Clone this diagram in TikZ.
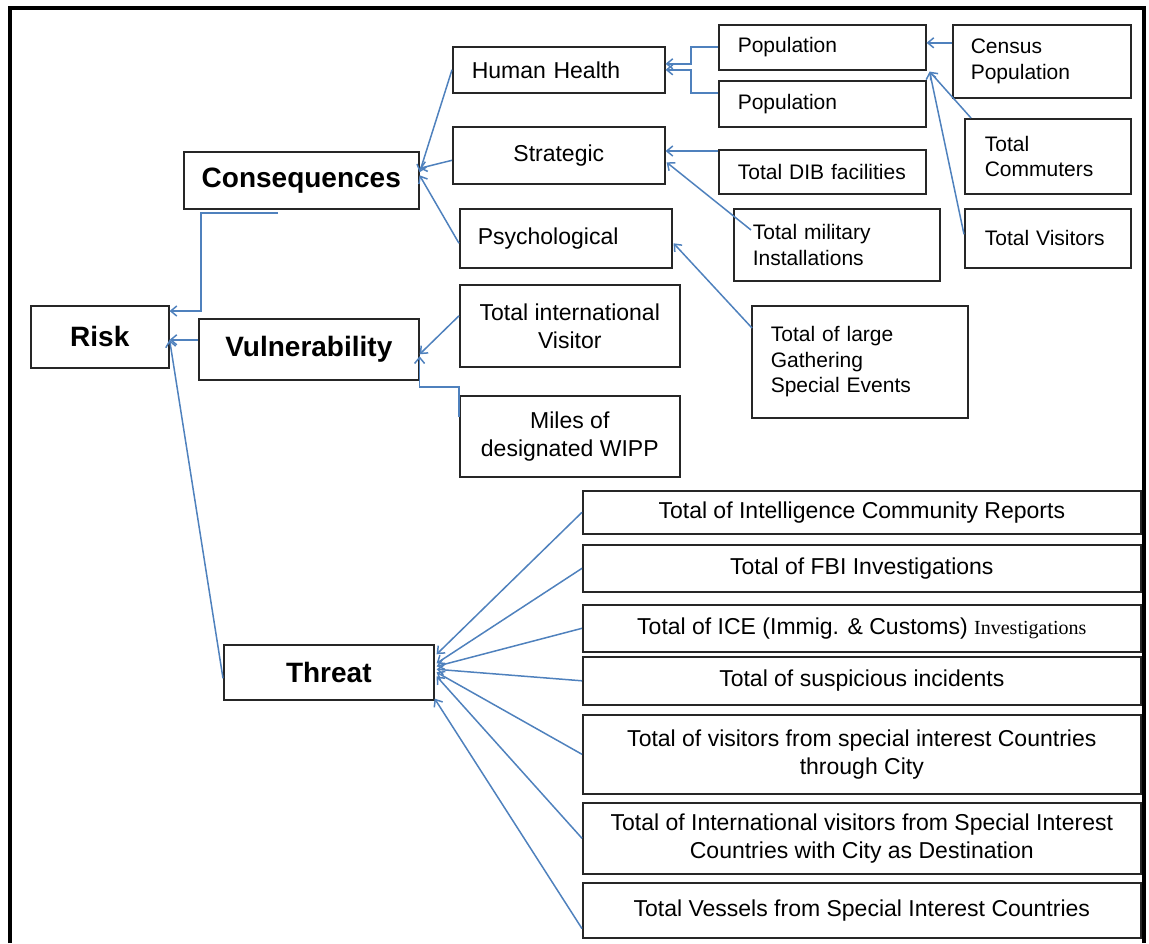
\documentclass[tikz,border=0pt]{standalone}
\usepackage{fontspec}
\setmainfont{Liberation Sans}
\newfontfamily\timesfont{Liberation Serif}
\usetikzlibrary{arrows.meta,calc}
\definecolor{linkblue}{RGB}{79,129,189}
\newcommand{\topfont}{\fontsize{28}{33}\selectfont\bfseries}
\newcommand{\midfont}{\fontsize{23}{28}\selectfont}
\newcommand{\leaffont}{\fontsize{21}{25.5}\selectfont}

\begin{document}
\begin{tikzpicture}[
x=1pt,y=-1pt,
line/.style={draw=linkblue,line width=1.5pt,-{Straight Barb[length=6pt,width=10pt]}},
frame/.style={draw,line width=4pt},
main/.style={draw=black!85,line width=1.6pt,anchor=north west,inner sep=0pt,align=center,font=\topfont},
cbox/.style={draw=black!85,line width=1.6pt,anchor=north west,inner sep=0pt,align=center,font=\midfont},
lbox/.style={draw=black!85,line width=1.6pt,anchor=north west,inner ysep=0pt,inner xsep=19pt,align=left,font=\midfont},
leaf/.style={lbox,font=\leaffont}
]
\useasboundingbox (0,0) rectangle (1149,943);

\path[frame] (10,943) -- (10,8) -- (1144,8) -- (1144,943);

\node[main,minimum width=138pt,minimum height=62pt] (risk) at (30,305) {Risk};
\node[main,minimum width=235pt,minimum height=57pt] (cons) at (183,151) {Consequences};
\node[main,minimum width=220pt,minimum height=61pt] (vuln) at (198,318) {Vulnerability};
\node[main,minimum width=210pt,minimum height=55pt] (threat) at (223,644) {Threat};

%consequences
\node[lbox,text width=174pt,minimum height=46pt] (health) at (452,46) {Human Health};
\node[cbox,minimum width=212pt,minimum height=57pt] (strat) at (452,126) {Strategic};
\node[lbox,text width=176pt,inner xsep=18pt,minimum height=59pt] (psych) at (459,208) {Psychological};
	\node[leaf,text width=169pt,minimum height=45pt] (pop1) at (718,24) {Population};
	\node[leaf,text width=169pt,minimum height=46pt] (pop2) at (718,80) {Population};
	\node[leaf,text width=142pt,inner xsep=18pt,minimum height=73pt] (census) at (952,24) {Census\\Population};
	\node[leaf,text width=126pt,inner xsep=20pt,minimum height=75pt] (commut) at (964,118) {Total\\Commuters};
	\node[leaf,text width=126pt,inner xsep=20pt,minimum height=59pt] (visit) at (964,208) {Total Visitors};
	\node[leaf,text width=169pt,minimum height=44pt] (dib) at (718,149) {Total DIB facilities};
	\node[leaf,text width=168pt,minimum height=72pt] (milit) at (733,208) {Total military\\Installations};
	\node[leaf,text width=178pt,minimum height=112pt] (gather) at (751,305) {Total of large\\Gathering\\Special Events};

%vulnerability
\node[cbox,minimum width=220pt,minimum height=82pt] (intl) at (459,284) {Total international\\Visitor};
\node[cbox,minimum width=220pt,minimum height=81pt] (wipp) at (459,395) {Miles of\\designated WIPP};

%threat
\node[cbox,minimum width=558pt,minimum height=43pt] (intel) at (582,490) {Total of Intelligence Community Reports};
\node[cbox,minimum width=558pt,minimum height=47pt] (fbi) at (582,544) {Total of FBI Investigations};
\node[cbox,minimum width=558pt,minimum height=47pt] (ice) at (582,604) {Total of ICE (Immig. \& Customs) {\timesfont\fontsize{20}{24}\selectfont Investigations}};
\node[cbox,minimum width=558pt,minimum height=48pt] (susp) at (582,656) {Total of suspicious incidents};
\node[cbox,minimum width=558pt,minimum height=79pt] (spvis) at (582,714) {Total of visitors from special interest Countries\\through City};
\node[cbox,minimum width=558pt,minimum height=71pt] (intvis) at (582,802) {Total of International visitors from Special Interest\\Countries with City as Destination};
\node[cbox,minimum width=558pt,minimum height=55pt] (vessel) at (582,882) {Total Vessels from Special Interest Countries};

%to risk
\coordinate (cjoin) at (278,213);
\coordinate (cbend) at (201,311);
\path[line] (cjoin) -| (cbend) -- (risk.east |- cbend);
\coordinate (vjoin) at ($(vuln.west)+(0,-9.5)$);
\path[line] (vjoin) -- (vjoin -| risk.east);
\path[line] ($(threat.west)+(0,6)$) -- ($(risk.east)+(0,3)$);

%to consequences
\path[line] (health.west) -- ($(cons.east)+(0,-8)$);
\path[line] ($(strat.west)+(0,5)$) -- ($(cons.east)+(0,-12)$);
\path[line] ($(psych.west)+(0,5)$) -- ($(cons.east)+(0,-5)$);
	\path[line] ($(pop1.west)+(0,-0.5)$) -- ++(-27,0) |- ($(health.east)+(0,-6)$);
	\path[line] ($(pop2.west)+(0,-11)$) -- ++(-27,0) |- (health.east);
	\coordinate (cjoin2) at ($(census.west)+(0,-18.5)$);
	\path[line] (cjoin2) -- (cjoin2 -| pop1.east);
	\coordinate (pjoin) at ($(pop1.south east)+(3,1)$);
	\path[line] ($(commut.north west)+(7,0)$) -- (pjoin);
	\path[line] ($(visit.west)+(0,-4)$) -- (pjoin);
	\coordinate (djoin) at ($(dib.north west)+(0,2)$);
	\path[line] (djoin) -- (djoin -| strat.east);
	\path[line] ($(milit.north west)+(18,22)$) -- ($(strat.east)+(1,7)$);
	\path[line] ($(gather.north west)+(1,23)$) -- ($(psych.east)+(1,5)$);

%to vulnerability
\path[line] ($(intl.west)+(0,-10)$) -- ($(vuln.east)+(0,5)$);
\coordinate (wjoin) at ($(wipp.north west)+(0,22)$);
\path[line] (wjoin) |- ($(vuln.south east)+(0,6.5)$) -- ($(vuln.east)+(0,7)$);

%to threat
\path[line] (intel.west) -- ($(threat.east)+(2,-18)$);
\path[line] (fbi.west) -- ($(threat.east)+(2,-9)$);
\path[line] (ice.west) -- ($(threat.east)+(2,-6)$);
\path[line] (susp.west) -- ($(threat.east)+(2,-3)$);
\path[line] (spvis.west) -- ($(threat.east)+(2,0)$);
\path[line] (intvis.west) -- ($(threat.east)+(2,4)$);
\path[line] ($(vessel.south west)+(0,-10)$) -- ($(threat.south east)+(0,-2)$);

\end{tikzpicture}
\end{document}
